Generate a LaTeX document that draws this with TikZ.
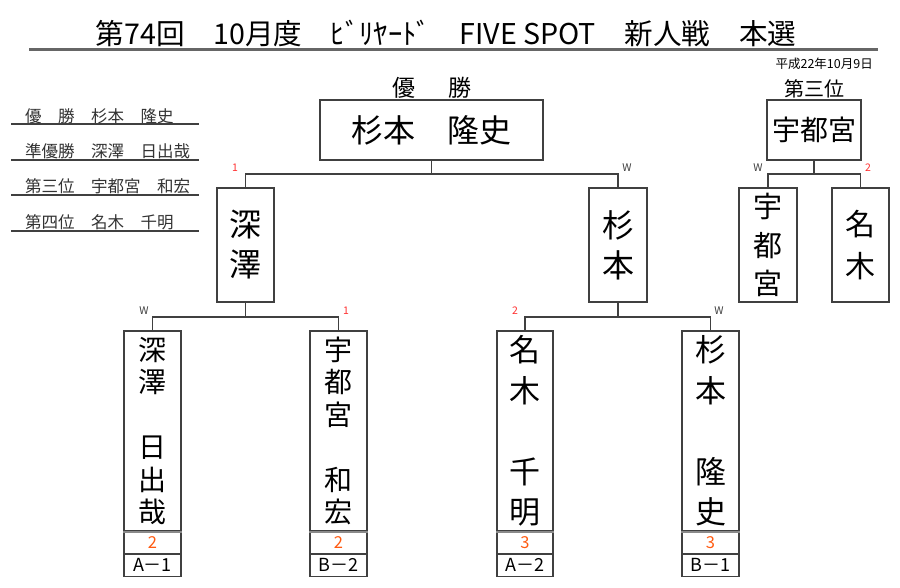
\documentclass[tikz,border=0pt]{standalone}
\usepackage{fontspec}
\setmainfont{Noto Sans CJK JP}
\definecolor{ln}{HTML}{404040}
\definecolor{redlbl}{HTML}{FF3030}
\definecolor{orng}{HTML}{FF5A10}
\definecolor{sep}{HTML}{8A8A8A}
\begin{document}
\begin{tikzpicture}[x=1pt,y=-1pt,
  box/.style={draw=ln, line width=1.1pt, inner sep=0pt, align=center},
  conn/.style={draw=ln, line width=1.1pt},
  rule/.style={draw=ln, line width=1.1pt},
  sepline/.style={draw=sep, line width=2pt},
  wlbl/.style={font={\fontsize{10.5}{12}\selectfont}, text=ln, inner sep=0pt},
  rlbl/.style={font={\fontsize{10.5}{12}\selectfont}, text=redlbl, inner sep=0pt},
  listtxt/.style={anchor=base west, inner sep=0pt, font={\fontsize{16.5}{18}\selectfont}, text=black!80},
  bignm/.style={font={\fontsize{28}{32.4}\selectfont}},
  bignm2/.style={font={\fontsize{31}{40.5}\selectfont}},
  semnm/.style={font={\fontsize{32}{40}\selectfont}},
  score/.style={box, minimum width=57pt, minimum height=21pt, text=orng, font={\fontsize{16.5}{17}\selectfont}},
  code/.style={box, minimum width=57pt, minimum height=22pt, font={\fontsize{18}{19}\selectfont}}
]
\useasboundingbox (0,0) rectangle (900,587);
\fill[white] (0,0) rectangle (900,587);

% title
\node[inner sep=0pt, font={\fontsize{28.6}{30}\selectfont}] (title) at (446,33) {第74回　10月度　ﾋﾞﾘﾔｰﾄﾞ　FIVE SPOT　新人戦　本選};
\coordinate (tl) at (29,49.5);
\coordinate (tr) at (878,49.5);
\draw[sepline, line width=2.2pt, draw=ln!80] (tl) -- (tr);
\node[anchor=east, inner sep=0pt, font={\fontsize{12.5}{14}\selectfont}] (date) at (873,64) {平成22年10月9日};

% left list
\node[listtxt] (r1) at (25,122) {優　勝　杉本　隆史};
\node[listtxt] (r2) at (25,157) {準優勝　深澤　日出哉};
\node[listtxt] (r3) at (25,192) {第三位　宇都宮　和宏};
\node[listtxt] (r4) at (25,228) {第四位　名木　千明};
\coordinate (l1a) at (11,124); \coordinate (l1b) at (199,124);
\coordinate (l2a) at (11,160); \coordinate (l2b) at (199,160);
\coordinate (l3a) at (11,195); \coordinate (l3b) at (199,195);
\coordinate (l4a) at (11,231); \coordinate (l4b) at (199,231);
\draw[rule] (l1a) -- (l1b);
\draw[rule] (l2a) -- (l2b);
\draw[rule] (l3a) -- (l3b);
\draw[rule] (l4a) -- (l4b);

% champion
\node[inner sep=0pt, font={\fontsize{23}{24}\selectfont}] (yu) at (404,88) {優};
\node[inner sep=0pt, font={\fontsize{23}{24}\selectfont}] (sho) at (460,88) {勝};
\node[box, minimum width=223pt, minimum height=60pt, font={\fontsize{32}{34}\selectfont}] (champ) at (431.5,130) {杉本　隆史};

% semifinal boxes
\node[box, semnm, minimum width=57pt, minimum height=114pt] (s1) at (245.5,245) {深\\澤};
\node[box, semnm, minimum width=58pt, minimum height=114pt] (s2) at (618,245) {杉\\本};

% bottom boxes
\node[box, bignm, minimum width=57pt, minimum height=200pt] (b1) at (152.5,431) {深\\澤\\[32.4pt]日\\出\\哉};
\node[box, bignm, minimum width=57pt, minimum height=200pt] (b2) at (338.5,431) {宇\\都\\宮\\[32.4pt]和\\宏};
\node[box, bignm2, minimum width=56pt, minimum height=200pt] (b3) at (525,431) {名\\木\\[40.5pt]千\\明};
\node[box, bignm2, minimum width=57pt, minimum height=200pt] (b4) at (710.5,431) {杉\\本\\[40.5pt]隆\\史};

\node[score, anchor=north] (b1s) at (b1.south) {2};
\node[score, anchor=north] (b2s) at (b2.south) {2};
\node[score, anchor=north, minimum width=56pt] (b3s) at (b3.south) {3};
\node[score, anchor=north] (b4s) at (b4.south) {3};
\node[code, anchor=north] (b1c) at (b1s.south) {A－1};
\node[code, anchor=north] (b2c) at (b2s.south) {B－2};
\node[code, anchor=north, minimum width=56pt] (b3c) at (b3s.south) {A－2};
\node[code, anchor=north] (b4c) at (b4s.south) {B－1};
\draw[sepline] (b1.south west) -- (b1.south east);
\draw[sepline] (b2.south west) -- (b2.south east);
\draw[sepline] (b3.south west) -- (b3.south east);
\draw[sepline] (b4.south west) -- (b4.south east);

% third place
\node[inner sep=0pt, font={\fontsize{20}{22}\selectfont}] (third) at (814,89) {第三位};
\node[box, minimum width=94pt, minimum height=60pt, font={\fontsize{28}{30}\selectfont}] (t0) at (814,130) {宇都宮};
\node[box, font={\fontsize{29}{38.5}\selectfont}, minimum width=58pt, minimum height=114pt] (t1) at (768,245) {宇\\都\\宮};
\node[box, font={\fontsize{30}{42}\selectfont}, minimum width=57pt, minimum height=114pt] (t2) at (860.5,245) {名\\木};

% connectors
\draw[conn] (champ.south) -- (champ.south |- 0,174);
\draw[conn] (s1.north) -- (s1.north |- 0,174) -- (s2.north |- 0,174) -- (s2.north);
\draw[conn] (s1.south) -- (s1.south |- 0,317);
\draw[conn] (b1.north) -- (b1.north |- 0,317) -- (b2.north |- 0,317) -- (b2.north);
\draw[conn] (s2.south) -- (s2.south |- 0,317);
\draw[conn] (b3.north) -- (b3.north |- 0,317) -- (b4.north |- 0,317) -- (b4.north);
\draw[conn] (t0.south) -- (t0.south |- 0,174);
\draw[conn] (t1.north) -- (t1.north |- 0,174) -- (t2.north |- 0,174) -- (t2.north);

% result labels
\node[rlbl] (k1) at (235,168) {1};
\node[wlbl] (k2) at (627,168) {W};
\node[wlbl] (k3) at (758,168) {W};
\node[rlbl] (k4) at (868,168) {2};
\node[wlbl] (k5) at (144,311) {W};
\node[rlbl] (k6) at (346,311) {1};
\node[rlbl] (k7) at (515,311) {2};
\node[wlbl] (k8) at (719,311) {W};
\end{tikzpicture}
\end{document}
